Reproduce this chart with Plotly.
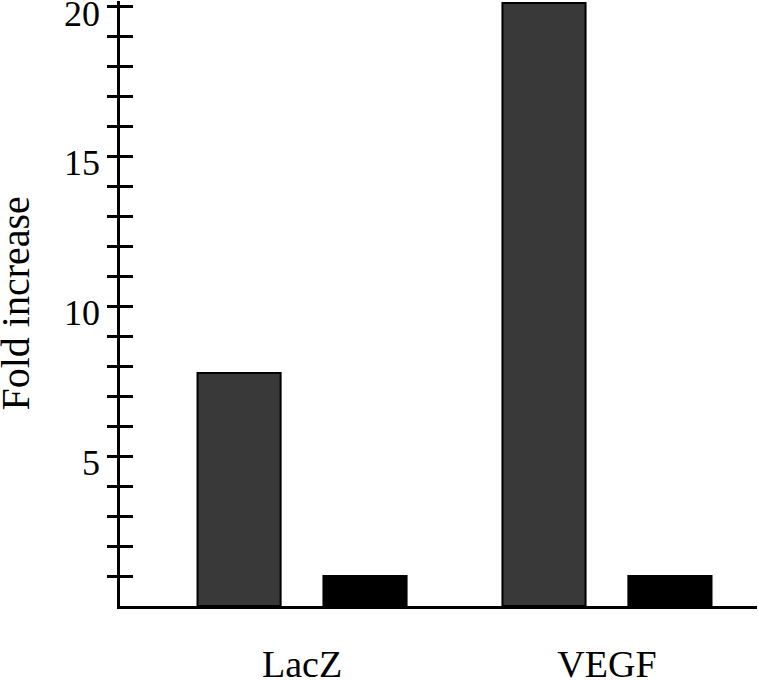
import plotly.graph_objects as go

categories = ["LacZ", "VEGF"]
treated = [7.78, 20.13]
control = [1.0, 1.0]
y_tickvals = list(range(1, 21))
y_ticktext = [str(v) if v % 5 == 0 else "" for v in y_tickvals]
y_title = "Fold increase"

FONT = "Liberation Serif, Times New Roman, serif"
Y_RANGE = [0, 20.2]

fig = go.Figure()
fig.add_trace(go.Bar(x=categories, y=treated, marker=dict(color="#393939", line=dict(color="black", width=2)),
                     showlegend=False))
fig.add_trace(go.Bar(x=categories, y=control, marker=dict(color="black", line=dict(color="black", width=2)),
                     showlegend=False))
# invisible trace to activate the overlaid axis carrying the inner tick halves
fig.add_trace(go.Scatter(x=categories, y=[None, None], yaxis="y2", showlegend=False, hoverinfo="skip"))

fig.update_layout(
    width=758, height=680,
    margin=dict(l=120, r=1, t=1, b=74),
    plot_bgcolor="white", paper_bgcolor="white",
    barmode="group", bargap=0.174, bargroupgap=0.34,
    font=dict(family=FONT, color="black"),
    xaxis=dict(
        range=[-0.597, 1.492], showline=True, linecolor="black", linewidth=2.5,
        ticks="", tickfont=dict(size=38, family=FONT), ticklabelstandoff=23,
        showgrid=False, zeroline=False, automargin=False,
    ),
    yaxis=dict(
        range=Y_RANGE, showline=True, linecolor="black", linewidth=2.5,
        ticks="outside", ticklen=10, tickwidth=2.5, tickcolor="black",
        tickvals=y_tickvals, ticktext=y_ticktext, ticklabeloverflow="allow",
        ticklabelshift=6,
        tickfont=dict(size=36, family=FONT),
        showgrid=False, zeroline=False, automargin=False,
    ),
    yaxis2=dict(
        range=Y_RANGE, overlaying="y", side="left", anchor="x",
        ticks="inside", ticklen=13, tickwidth=2.5, tickcolor="black",
        tickvals=y_tickvals, showticklabels=False,
        showgrid=False, zeroline=False, showline=False, automargin=False,
    ),
    annotations=[dict(
        text=y_title, textangle=-90, xref="paper", yref="paper", x=0, y=0.5,
        xanchor="center", yanchor="middle", xshift=-105, showarrow=False,
        font=dict(size=40, family=FONT, color="black"),
    )],
)

fig.write_html("out.html", config={"displayModeBar": False},
               post_script="document.body.style.margin='0';")
